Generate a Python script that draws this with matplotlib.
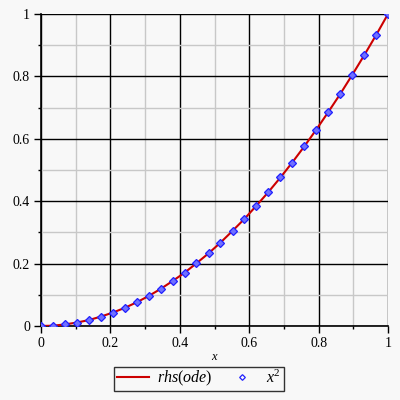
import numpy as np
import matplotlib.pyplot as plt
from matplotlib.ticker import MultipleLocator

# sample points (x in [0, 1], 30 points)
x_pts = [0.000, 0.034, 0.069, 0.103, 0.138, 0.172, 0.207, 0.241, 0.276, 0.310,
         0.345, 0.379, 0.414, 0.448, 0.483, 0.517, 0.552, 0.586, 0.621, 0.655,
         0.690, 0.724, 0.759, 0.793, 0.828, 0.862, 0.897, 0.931, 0.966, 1.000]
y_pts = [0.000, 0.001, 0.005, 0.011, 0.019, 0.030, 0.043, 0.058, 0.076, 0.096,
         0.119, 0.144, 0.171, 0.201, 0.233, 0.267, 0.305, 0.343, 0.386, 0.429,
         0.476, 0.524, 0.576, 0.629, 0.686, 0.743, 0.805, 0.867, 0.933, 1.000]

line_label = r"$\mathit{rhs}(\mathit{ode})$"
pts_label = r"$x^2$"

plt.rcParams['font.family'] = ['Liberation Serif', 'DejaVu Serif']
plt.rcParams['mathtext.fontset'] = 'custom'
plt.rcParams['mathtext.it'] = 'Liberation Serif:italic'
plt.rcParams['mathtext.rm'] = 'Liberation Serif'

bg = "#f8f8f8"
fig = plt.figure(figsize=(4, 4), dpi=100, facecolor=bg)
ax = fig.add_axes([0.1025, 0.185, 0.8675, 0.78], facecolor=bg)

ax.plot(x_pts, y_pts, color="#cc0000", lw=1.5, label=line_label, zorder=3)
ax.plot(x_pts, y_pts, ls="none", marker="D", ms=3.6, mfc="#7070ff", mec="#2020ff",
        mew=0.9, label=pts_label, zorder=4)

ax.set_xlim(0, 1)
ax.set_ylim(0, 1)
ax.xaxis.set_major_locator(MultipleLocator(0.2))
ax.yaxis.set_major_locator(MultipleLocator(0.2))
ax.xaxis.set_minor_locator(MultipleLocator(0.1))
ax.yaxis.set_minor_locator(MultipleLocator(0.1))
ax.xaxis.set_major_formatter(lambda v, p: f"{v:g}")
ax.yaxis.set_major_formatter(lambda v, p: f"{v:g}")

ax.grid(which="minor", color="#c8c8c8", lw=1.0, zorder=0)
ax.grid(which="major", color="black", lw=1.0, zorder=1)
for s in ax.spines.values():
    s.set_visible(False)
ax.axhline(0, color="black", lw=1.2, zorder=2, clip_on=False)
ax.axvline(0, color="black", lw=1.2, zorder=2, clip_on=False)

ax.tick_params(which="major", length=5, width=1, direction="out", labelsize=10, pad=3)
ax.tick_params(which="minor", length=2.5, width=1, direction="out")

ax.set_xlabel(r"$x$", fontsize=9, labelpad=1)

leg = ax.legend(loc="upper center", bbox_to_anchor=(0.455, -0.13), ncol=2,
                frameon=True, fancybox=False, edgecolor="black", facecolor=bg,
                fontsize=11.5, handlelength=2.0, columnspacing=0.9, borderpad=0.15,
                handletextpad=0.5, markerscale=0.8, borderaxespad=0)
leg.get_frame().set_linewidth(1.0)
leg.legend_handles[1].set_markerfacecolor("none")

fig.savefig("out.png", dpi=100, facecolor=bg)
